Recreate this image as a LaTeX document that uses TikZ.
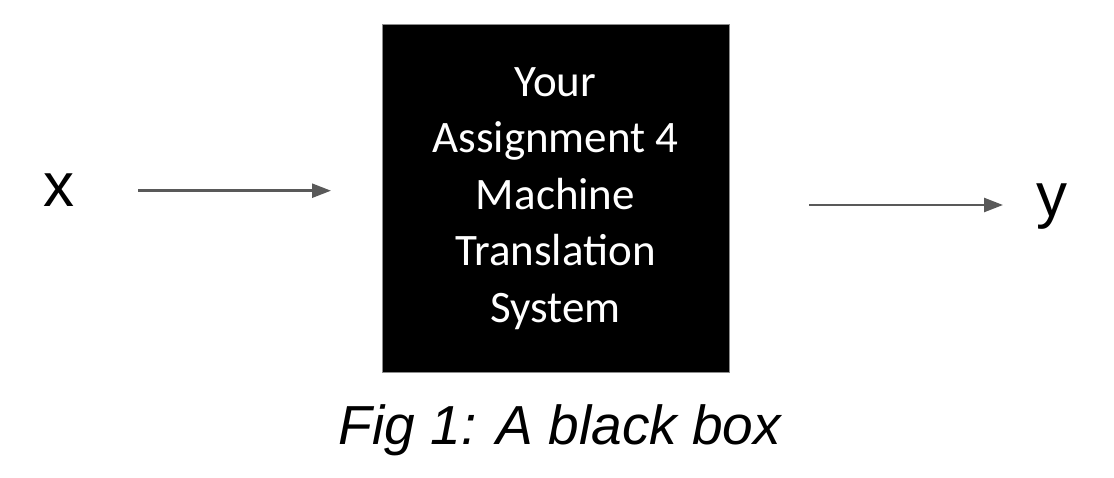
\documentclass[tikz,border=0pt]{standalone}
\usepackage{fontspec}
\setmainfont{Liberation Sans}
\newfontfamily\handfont{Carlito}
\usetikzlibrary{arrows.meta}
\definecolor{arrowgray}{HTML}{595959}
\definecolor{boxborder}{HTML}{8C8C8C}
\tikzset{
  bigletter/.style={anchor=base, inner sep=0pt, font=\fontsize{62}{62}\selectfont},
  blackbox/.style={draw=boxborder, line width=1pt, fill=black, text=white,
    minimum width=347pt, minimum height=347pt, inner sep=0pt, align=center,
    font=\handfont\fontsize{45}{56.5}\selectfont},
  flowarrow/.style={draw=arrowgray, line width=2.5pt, -{Triangle[length=19pt,width=14pt]}},
  captiontext/.style={anchor=base, inner sep=0pt, font=\itshape\fontsize{55}{55}\selectfont}
}
\begin{document}
\begin{tikzpicture}[x=1pt,y=-1pt]
\useasboundingbox (0,0) rectangle (1114,478);
\node[bigletter] (x) at (59,207) {x};
\node[bigletter] (y) at (1052,217) {y};
\node[blackbox] (box) at (555.5,198.5) {Your\\Assignment 4\\Machine\\Translation\\System};
\node[captiontext] (cap) at (560,444) {Fig 1: A black box};
\coordinate (in1) at (138,190.7);
\coordinate (in2) at (331,190.7);
\coordinate (out1) at (809,205);
\coordinate (out2) at (1003,205);
\draw[flowarrow] (in1) -- (in2);
\draw[flowarrow] (out1) -- (out2);
\end{tikzpicture}
\end{document}
